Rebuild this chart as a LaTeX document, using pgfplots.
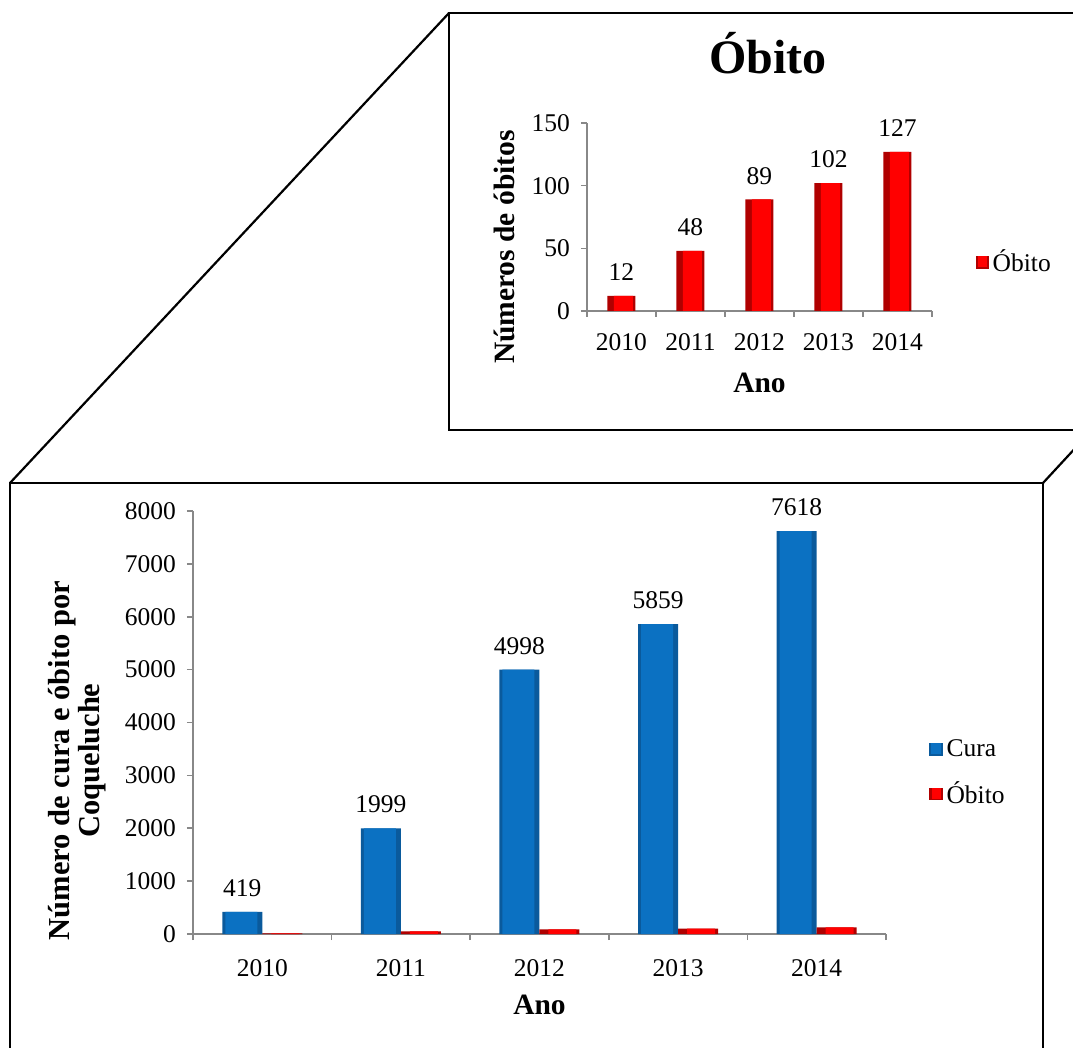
\documentclass[border=0pt]{standalone}
\usepackage{fontspec}
\setmainfont{Liberation Serif}
\usepackage{pgfplots}
\pgfplotsset{compat=1.18}

\definecolor{axisgray}{HTML}{888888}
\definecolor{curaedge}{HTML}{0A5A9C}
\definecolor{curafill}{HTML}{0B71C2}
\definecolor{obedge}{HTML}{B00000}
\definecolor{obfill}{HTML}{FF0000}

\newcommand{\tickfont}{\fontsize{12.75pt}{15pt}\selectfont}
\newcommand{\labfont}{\bfseries\fontsize{14.75pt}{15pt}\selectfont}

\pgfplotsset{
  base/.style={
    scale only axis,
    axis x line*=bottom, axis y line*=left,
    axis line style={-, draw=axisgray, line width=0.8pt},
    every tick/.style={draw=axisgray, line width=0.8pt},
    tick align=outside,
    major tick length=3pt,
    xmin=-0.5, xmax=4.5, ymin=0,
    xtick={-0.5,0.5,...,4.5}, xticklabels={,,,,,},
    extra x ticks={0,1,2,3,4},
    extra x tick labels={2010,2011,2012,2013,2014},
    tick label style={font=\tickfont},
    /pgf/number format/assume math mode=true,
    /pgf/number format/1000 sep={},
    yticklabel style={xshift=-2pt},
    legend cell align=left,
  },
  curaleg/.style={legend image code/.code={\fill[curaedge] (0pt,-3.2pt) rectangle (6.6pt,3.2pt); \fill[curafill] (1pt,-2.4pt) rectangle (5.6pt,3.2pt);}},
  obleg/.style={legend image code/.code={\fill[obedge] (0pt,-3.2pt) rectangle (6.6pt,3.2pt); \fill[obfill] (1.4pt,-2.4pt) rectangle (5.8pt,3.2pt);}},
  vals/.style={nodes near coords, every node near coord/.append style={font=\tickfont, yshift=4pt, xshift=#1, draw=none, fill=none}},
  vals/.default=0pt,
}

\begin{document}
\begin{tikzpicture}
\path[use as bounding box] (0pt,0pt) rectangle (536.5pt,-524pt);

% frames
\draw[line width=1.1pt] (545pt,-6.5pt) -- (224.5pt,-6.5pt) -- (224.5pt,-215pt) -- (545pt,-215pt);
\draw[line width=1.1pt] (224.5pt,-6.5pt) -- (5pt,-241.5pt);
\draw[line width=1.1pt] (5pt,-530pt) -- (5pt,-241.5pt) -- (521.5pt,-241.5pt) -- (521.5pt,-530pt);
\draw[line width=1.1pt] (521.5pt,-241.5pt) -- (540pt,-221.5pt);

% bottom chart
\begin{axis}[base,
  at={(96.5pt,-467pt)}, anchor=south west,
  width=346.5pt, height=211.5pt,
  ymax=8000, ytick={0,1000,...,8000},
  extra x tick style={major tick length=0pt, xticklabel style={yshift=-9pt}},
  xlabel={Ano}, xlabel style={font=\labfont, at={(axis description cs:0.5,-0.168)}, anchor=center},
  ylabel={Número de cura e óbito por\\Coqueluche},
  ylabel style={font=\bfseries\fontsize{15.25pt}{15pt}\selectfont, align=center, at={(axis description cs:-0.167,0.41)}, anchor=center},
  legend style={draw=none, fill=none, font=\tickfont, at={(axis description cs:1.062,0.47)}, anchor=north west, row sep=7pt, inner sep=0pt},
]
\addplot[ybar, bar width=20pt, bar shift=-10pt, fill=curaedge, draw=none, curaleg, vals=-10pt] coordinates {(0,419) (1,1999) (2,4998) (3,5859) (4,7618)};
\addplot[ybar, bar width=20pt, bar shift=10pt, fill=obedge, draw=none, obleg] coordinates {(0,12) (1,48) (2,89) (3,102) (4,127)};
\addplot[ybar, bar width=16pt, bar shift=-10.5pt, fill=curafill, draw=none, forget plot] coordinates {(0,419) (1,1999) (2,4998) (3,5859) (4,7618)};
\addplot[ybar, bar width=14pt, bar shift=11.5pt, fill=obfill, draw=none, forget plot] coordinates {(0,12) (1,48) (2,89) (3,102) (4,127)};
\legend{Cura, Óbito}
\end{axis}

% top chart
\begin{axis}[base,
  at={(293.5pt,-155.5pt)}, anchor=south west,
  width=172.5pt, height=94pt,
  ymax=150, ytick={0,50,100,150},
  extra x tick style={major tick length=0pt, xticklabel style={yshift=-7.5pt}},
  title={Óbito}, title style={font=\bfseries\fontsize{24pt}{28pt}\selectfont, at={(axis description cs:0.525,1.31)}, anchor=center},
  xlabel={Ano}, xlabel style={font=\labfont, at={(axis description cs:0.5,-0.383)}, anchor=center},
  ylabel={Números de óbitos},
  ylabel style={font=\labfont, at={(axis description cs:-0.238,0.34)}, anchor=center},
  legend style={draw=none, fill=none, font=\tickfont, at={(axis description cs:1.125,0.26)}, anchor=west, inner sep=0pt},
]
\addplot[ybar, bar width=14pt, bar shift=0pt, fill=obedge, draw=none, obleg, vals] coordinates {(0,12) (1,48) (2,89) (3,102) (4,127)};
\addplot[ybar, bar width=9.5pt, bar shift=1pt, fill=obfill, draw=none, forget plot] coordinates {(0,12) (1,48) (2,89) (3,102) (4,127)};
\legend{Óbito}
\end{axis}
\end{tikzpicture}
\end{document}
